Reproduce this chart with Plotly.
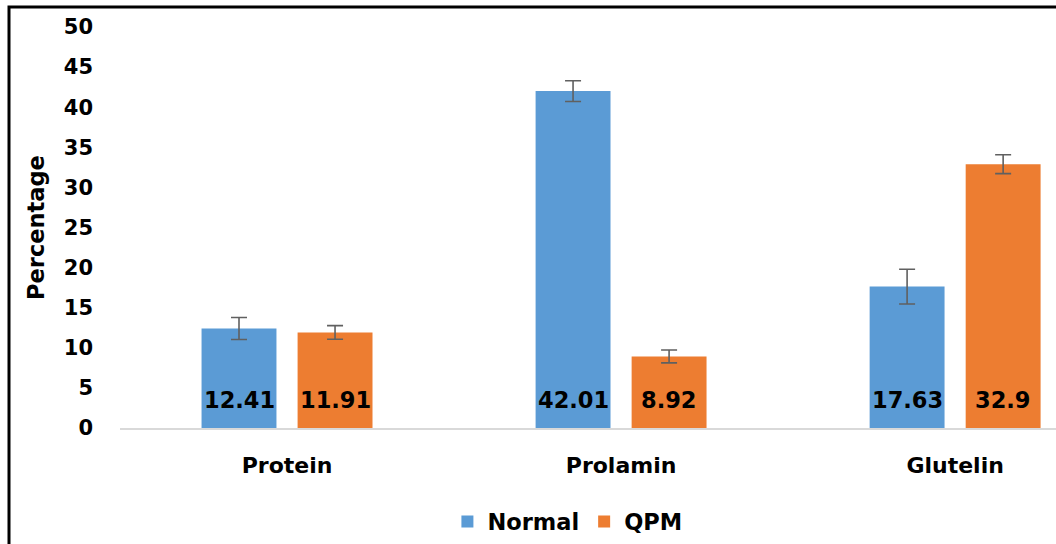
import plotly.graph_objects as go

categories = ["Protein", "Prolamin", "Glutelin"]
normal = [12.41, 42.01, 17.63]
qpm = [11.91, 8.92, 32.9]
normal_err = [1.37, 1.29, 2.16]
qpm_err = [0.85, 0.8, 1.18]
y_ticks = [0, 5, 10, 15, 20, 25, 30, 35, 40, 45, 50]

FONT = "DejaVu Sans"
BLUE = "#5B9BD5"
ORANGE = "#ED7D31"
ERR = "#606060"

fig = go.Figure()
fig.add_trace(go.Bar(
    name="<b>Normal</b>", x=categories, y=normal, marker_color=BLUE,
    marker_line_width=0,
    error_y=dict(type="data", array=normal_err, color=ERR, thickness=1.6, width=8),
))
fig.add_trace(go.Bar(
    name="<b>QPM</b>", x=categories, y=qpm, marker_color=ORANGE,
    marker_line_width=0,
    error_y=dict(type="data", array=qpm_err, color=ERR, thickness=1.6, width=8),
))

# value labels near the base of each bar
for cat, v in zip(categories, normal):
    fig.add_annotation(x=cat, y=3.5, text=f"<b>{v:g}</b>", showarrow=False,
                       xshift=-48, font=dict(family=FONT, size=22.5, color="black"))
for cat, v in zip(categories, qpm):
    fig.add_annotation(x=cat, y=3.5, text=f"<b>{v:g}</b>", showarrow=False,
                       xshift=48, font=dict(family=FONT, size=22.5, color="black"))

# outer frame
fig.add_shape(type="rect", xref="paper", yref="paper",
              x0=(9 - 120) / 936, x1=1.2, y0=-0.6, y1=(428 - 7) / 401,
              line=dict(color="black", width=3), fillcolor="rgba(0,0,0,0)", layer="above")

fig.update_layout(
    width=1056, height=544,
    margin=dict(l=120, r=0, t=27, b=116),
    paper_bgcolor="white", plot_bgcolor="white",
    barmode="group", bargap=0.425, bargroupgap=0.22,
    font=dict(family=FONT, color="black"),
    showlegend=True,
    legend=dict(orientation="h", x=0.478, xanchor="center", y=-0.234, yanchor="middle",
                font=dict(family=FONT, size=22.5, color="black"),
                itemwidth=30, traceorder="normal"),
    xaxis=dict(range=[-0.5, 2.302], showgrid=False, zeroline=False,
               showline=True, linecolor="#d9d9d9", linewidth=1.5,
               tickfont=dict(family=FONT, size=22, color="black"),
               ticks="", ticklabelstandoff=17,
               tickvals=categories, ticktext=[f"<b>{c}</b>" for c in categories]),
    yaxis=dict(range=[0, 50], tickvals=y_ticks, ticktext=[f"<b>{t}</b>" for t in y_ticks],
               showgrid=False, zeroline=False,
               showline=False, ticks="", ticklabelstandoff=26,
               tickfont=dict(family=FONT, size=21, color="black"),
               title=dict(text="<b>Percentage</b>", font=dict(family=FONT, size=22.5, color="black"),
                          standoff=12)),
)

fig.write_html("out.html", config={"displayModeBar": False},
               post_script="document.body.style.margin='0';")
